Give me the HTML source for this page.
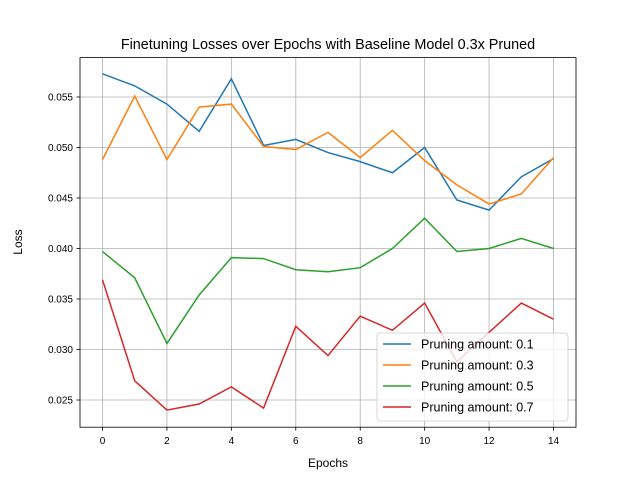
<!DOCTYPE html>
<html><head><meta charset="utf-8"><style>
body{margin:0;background:#fff;}
svg{font-family:"Liberation Sans","DejaVu Sans",sans-serif;}
</style></head><body>
<svg id="chart" width="640" height="480" viewBox="0 0 640 480">
<rect width="640" height="480" fill="#fff"/>
<g id="grid"></g><g id="axes"></g><g id="lines"></g><g id="legend"></g>
<text x="328" y="49" text-anchor="middle" font-size="14.4">Finetuning Losses over Epochs with Baseline Model 0.3x Pruned</text>
<text x="328" y="467" text-anchor="middle" font-size="12">Epochs</text>
<text x="22" y="242" text-anchor="middle" font-size="12" transform="rotate(-90 22 242)">Loss</text>
</svg>
<script>
const epochs=[0,1,2,3,4,5,6,7,8,9,10,11,12,13,14];
const s01=[0.0573,0.0561,0.0543,0.0516,0.0568,0.0502,0.0508,0.0495,0.0486,0.0475,0.0500,0.0448,0.0438,0.0471,0.0489];
const s03=[0.0488,0.0551,0.0488,0.0540,0.0543,0.0501,0.0498,0.0515,0.0490,0.0517,0.0487,0.0463,0.0444,0.0454,0.0490];
const s05=[0.0397,0.0371,0.0306,0.0354,0.0391,0.0390,0.0379,0.0377,0.0381,0.0400,0.0430,0.0397,0.0400,0.0410,0.0400];
const s07=[0.0369,0.0269,0.0240,0.0246,0.0263,0.0242,0.0323,0.0294,0.0333,0.0319,0.0346,0.0288,0.0317,0.0346,0.0330];
const xTicks=[0,2,4,6,8,10,12,14];
const yTicks=[0.025,0.030,0.035,0.040,0.045,0.050,0.055];
const seriesNames=["Pruning amount: 0.1","Pruning amount: 0.3","Pruning amount: 0.5","Pruning amount: 0.7"];
const NS="http://www.w3.org/2000/svg";
const L=80,R=576,T=57.6,B=427.2;
const xs=v=>102.5+v*(553.5-102.5)/14;
const ys=v=>400-(v-0.025)*10100;
function mk(tag,attrs,parent){const e=document.createElementNS(NS,tag);for(const k in attrs)e.setAttribute(k,attrs[k]);parent.appendChild(e);return e;}
const grid=document.getElementById('grid'),axes=document.getElementById('axes'),lines=document.getElementById('lines'),leg=document.getElementById('legend');
xTicks.forEach(t=>{const x=xs(t);
const g=mk('line',{x1:x,x2:x,y1:T,y2:B,stroke:'#b0b0b0','stroke-width':0.8},grid);


mk('line',{x1:x,x2:x,y1:B,y2:B+3.5,stroke:'#000','stroke-width':0.8},axes);
const tx=mk('text',{x:x,y:B+17,'text-anchor':'middle','font-size':10},axes);tx.textContent=t;

});
yTicks.forEach(t=>{const y=ys(t);
const g=mk('line',{x1:L,x2:R,y1:y,y2:y,stroke:'#b0b0b0','stroke-width':0.8},grid);


mk('line',{x1:L-3.5,x2:L,y1:y,y2:y,stroke:'#000','stroke-width':0.8},axes);
const tx=mk('text',{x:L-7,y:y+3.5,'text-anchor':'end','font-size':10},axes);tx.textContent=t.toFixed(3);

});
const frame=mk('rect',{x:L,y:T,width:R-L,height:B-T,fill:'none',stroke:'#000','stroke-width':0.8},axes);


const series=[s01,s03,s05,s07],colors=['#1f77b4','#ff7f0e','#2ca02c','#d62728'];
series.forEach((s,i)=>{const p=mk('polyline',{points:s.map((v,j)=>xs(epochs[j])+','+ys(v)).join(' '),fill:'none',stroke:colors[i],'stroke-width':1.5},lines);

});
const lb=mk('rect',{x:377,y:333,width:191,height:88,rx:3,fill:'#fff','fill-opacity':0.8,stroke:'#ccc','stroke-width':0.8},leg);


seriesNames.forEach((n,i)=>{const y=344+i*21;
mk('line',{x1:383,x2:411,y1:y,y2:y,stroke:colors[i],'stroke-width':1.5},leg);
const tx=mk('text',{x:421,y:y+4.5,'font-size':12.5},leg);tx.textContent=n;

});
</script>
</body></html>
